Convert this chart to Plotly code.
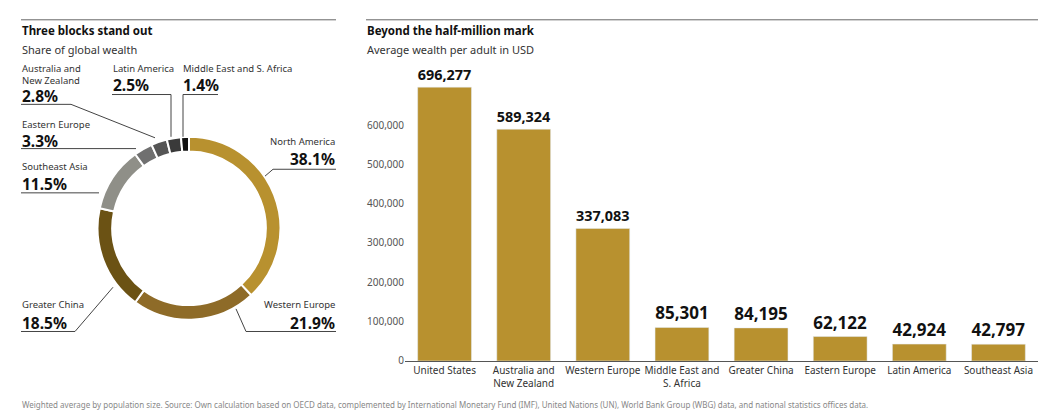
import plotly.graph_objects as go

regions = ["North America", "Western Europe", "Greater China", "Southeast Asia",
           "Eastern Europe", "Australia and New Zealand", "Latin America", "Middle East and S. Africa"]
shares = [38.1, 21.9, 18.5, 11.5, 3.3, 2.8, 2.5, 1.4]
pie_colors = ["#B8912F", "#8E6B28", "#6B5214", "#8F8F88", "#707070", "#555555", "#3A3A3A", "#111111"]

bar_cats = ["United States", "Australia and<br>New Zealand", "Western Europe", "Middle East and<br>S. Africa",
            "Greater China", "Eastern Europe", "Latin America", "Southeast Asia"]
wealth = [696277, 589324, 337083, 85301, 84195, 62122, 42924, 42797]
yticks = [0, 100000, 200000, 300000, 400000, 500000, 600000]

W, H = 1046, 418
FONT = "Noto Sans"
def px(x): return x / W
def py(y): return 1 - y / H

fig = go.Figure()
cx, cy, R = 181, 224, 93
fig.add_trace(go.Pie(labels=regions, values=shares, hole=0.84, sort=False, direction="clockwise",
                     rotation=0, marker=dict(colors=pie_colors, line=dict(color="white", width=2)),
                     textinfo="none", hoverinfo="label+percent", showlegend=False,
                     domain=dict(x=[px(cx - R), px(cx + R)], y=[py(cy + R), py(cy - R)])))
fig.add_trace(go.Bar(x=bar_cats, y=wealth, marker_color="#B8912F", width=0.68,
                     text=[f"{v:,}" for v in wealth], textposition="outside",
                     textfont=dict(size=17, color="#111", family=FONT, weight="bold"),
                     cliponaxis=False, showlegend=False, xaxis="x", yaxis="y"))

fig.update_layout(
    width=W, height=H, margin=dict(l=0, r=0, t=0, b=0),
    paper_bgcolor="white", plot_bgcolor="white", font=dict(family=FONT, color="#333"),
    xaxis=dict(domain=[px(397), px(1030)], showline=True, linecolor="#555", linewidth=1,
               tickfont=dict(size=10, color="#333"), ticks=""),
    yaxis=dict(domain=[py(359), py(79)], range=[0, 700000], tickvals=yticks,
               ticktext=[f"{v:,}" for v in yticks], showgrid=False, zeroline=False,
               tickfont=dict(size=10, color="#555"), ticks="", ticklen=0),
    bargap=0.3,
)

ann = []
def txt(x, y, s, size=10, bold=False, anchor="left", color="#333"):
    ann.append(dict(x=px(x), y=py(y), xref="paper", yref="paper", text=s, showarrow=False,
                    xanchor=anchor, yanchor="middle", borderpad=0,
                    font=dict(size=size, family=FONT, color=color, weight="bold" if bold else "normal")))
shapes = []
def line(pts, color="#444", w=1):
    for (x0, y0), (x1, y1) in zip(pts[:-1], pts[1:]):
        shapes.append(dict(type="line", xref="paper", yref="paper", x0=px(x0), y0=py(y0),
                           x1=px(x1), y1=py(y1), line=dict(color=color, width=w)))

# headers
line([(13, 12), (328, 12)], "#666")
line([(358, 12), (1030, 12)], "#666")
txt(13, 23, "Three blocks stand out", 11.5, True, color="#111")
txt(13, 42, "Share of global wealth", 11)
txt(358, 23, "Beyond the half-million mark", 11.5, True, color="#111")
txt(358, 42, "Average wealth per adult in USD", 11)
txt(13, 403, "Weighted average by population size. Source: Own calculation based on OECD data, complemented by International Monetary Fund (IMF), United Nations (UN), World Bank Group (WBG) data, and national statistics offices data.", 8, color="#888")

pct = [f"{s}%" for s in shares]
LS, PS = 9.5, 15.5
# North America
txt(328, 136, "North America", LS, anchor="right"); txt(328, 154, pct[0], PS, True, "right", "#111")
line([(328, 164), (265, 164), (257, 171)])
# Western Europe
txt(328, 302, "Western Europe", LS, anchor="right"); txt(328, 320, pct[1], PS, True, "right", "#111")
line([(328, 329), (238, 329), (228, 306)])
# Greater China
txt(13, 302, "Greater China", LS); txt(13, 320, pct[2], PS, True, color="#111")
line([(13, 329), (67, 329), (105, 284)])
# Southeast Asia
txt(13, 161, "Southeast Asia", LS); txt(13, 179, pct[3], PS, True, color="#111")
line([(13, 188), (91, 188)])
# Eastern Europe
txt(13, 118, "Eastern Europe", LS); txt(13, 135, pct[4], PS, True, color="#111")
line([(13, 143), (128, 143)])
# Australia and NZ
txt(13, 62, "Australia and", LS); txt(13, 74, "New Zealand", LS); txt(13, 89, pct[5], PS, True, color="#111")
line([(13, 98), (63, 98), (147, 132)])
# Latin America
txt(104, 62, "Latin America", LS); txt(104, 78, pct[6], PS, True, color="#111")
line([(104, 88), (163, 88), (163, 131)])
# Middle East
txt(174, 62, "Middle East and S. Africa", LS); txt(174, 78, pct[7], PS, True, color="#111")
line([(210, 88), (175, 88), (175, 131)])

fig.update_layout(annotations=ann, shapes=shapes)
fig.write_html("out.html")
